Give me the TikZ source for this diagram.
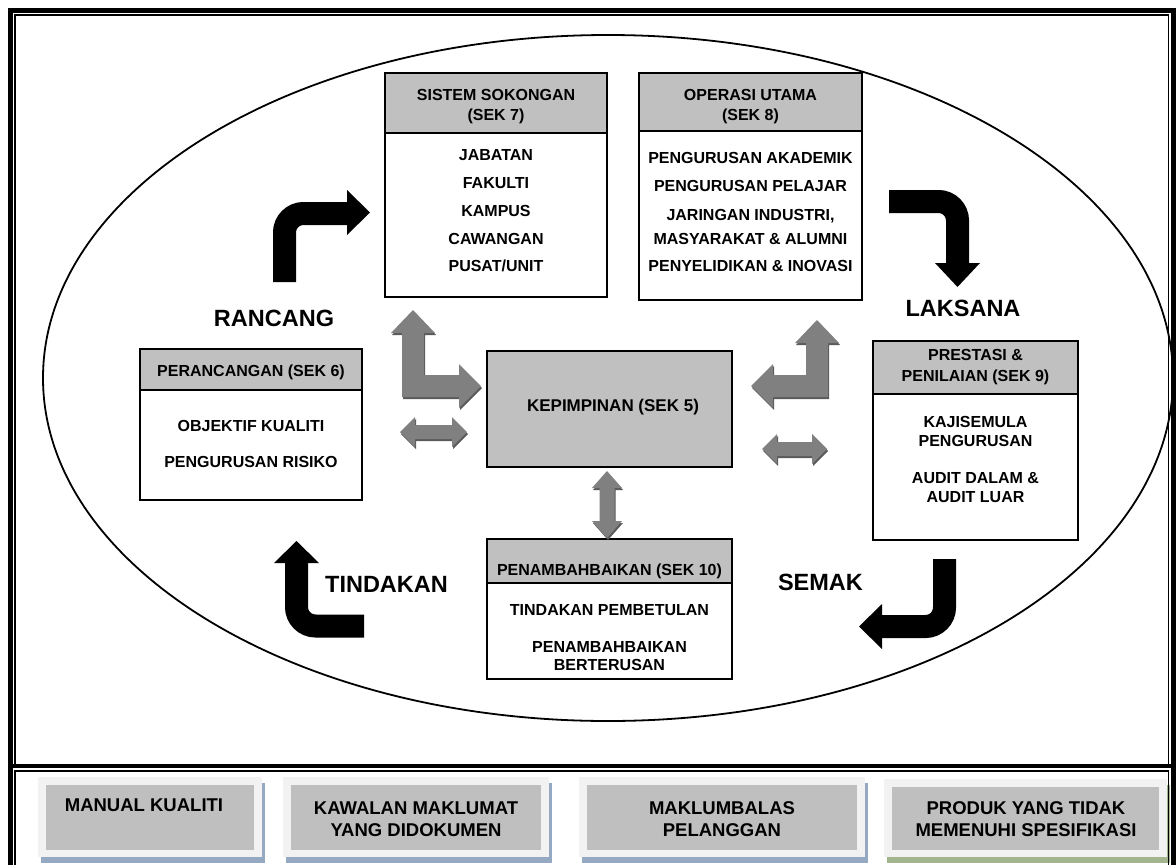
\documentclass[tikz,border=0pt]{standalone}
\usepackage{fontspec}
\setmainfont{Liberation Sans}
\definecolor{hdrgray}{HTML}{C0C0C0}
\definecolor{arrowgray}{HTML}{808080}
\definecolor{arrowshade}{HTML}{5A5A5A}
\definecolor{panelgray}{HTML}{BFBFBF}
\definecolor{panelrim}{HTML}{F2F2F2}
\definecolor{shadeblue}{HTML}{95A9C3}
\definecolor{shadegreen}{HTML}{A2B58E}

% section box: name, x1, y1, x2, y2, y of header bottom
\newcommand\secbox[6]{%
  \fill[hdrgray] (#2,#3) rectangle (#4,#6);
  \draw[line width=2pt] (#2,#6) -- (#4,#6);
  \node[boxframe,minimum width=#4pt-#2pt,minimum height=#5pt-#3pt] (#1) at ({(#2+#4)/2},{(#3+#5)/2}) {};
}
% document panel: name, x1, y1, x2, y2, shadow colour
\newcommand\docpanel[6]{%
  \fill[#6] (#2+3,#3+6) rectangle (#4+3,#5+6);
  \fill[panelrim] (#2,#3) rectangle (#4,#5);
  \node[fill=panelgray,inner sep=0pt,minimum width=#4pt-#2pt-16pt,minimum height=#5pt-#3pt-15pt] (#1) at ({(#2+#4)/2},{(#3+#5)/2}) {};
}
% shaded block arrow: path given as argument
\newcommand\shadedarrow[1]{%
  \fill[arrowshade,shift={(1,2)}] #1;
  \fill[arrowgray] #1;
}
% horizontal double arrow: x left tip, x right tip, y centre
\newcommand\harrow[3]{%
  \shadedarrow{(#1,#3) -- (#1+15,#3-15) -- (#1+15,#3-7) -- (#2-15,#3-7) -- (#2-15,#3-15) -- (#2,#3)
    -- (#2-15,#3+15) -- (#2-15,#3+7) -- (#1+15,#3+7) -- (#1+15,#3+15) -- cycle}}
% vertical double arrow: x centre, y top tip, y bottom tip
\newcommand\varrow[3]{%
  \shadedarrow{(#1,#2) -- (#1+15,#2+17) -- (#1+7.5,#2+17) -- (#1+7.5,#3-17) -- (#1+15,#3-17) -- (#1,#3)
    -- (#1-15,#3-17) -- (#1-7.5,#3-17) -- (#1-7.5,#2+17) -- (#1-15,#2+17) -- cycle}}

\begin{document}
\begin{tikzpicture}[x=1pt,y=-1pt,
  boxframe/.style={draw=black,line width=2pt,inner sep=0pt,outer sep=0pt},
  lbl/.style={font=\bfseries\fontsize{16}{18}\selectfont,anchor=base,inner sep=0pt},
  keylbl/.style={font=\bfseries\fontsize{17}{20}\selectfont,anchor=base,inner sep=0pt},
  biglbl/.style={font=\bfseries\fontsize{23.5}{26}\selectfont,anchor=base,inner sep=0pt},
  doclbl/.style={font=\bfseries\fontsize{18.5}{21}\selectfont,anchor=base,inner sep=0pt},
  cyclearrow/.style={draw=black,line width=23pt,rounded corners=19pt},
  cyclehead/.style={fill=black},
]
\useasboundingbox (0,0) rectangle (1176,865);
\fill[white] (0,0) rectangle (1176,865);

% the process cycle
\draw[line width=1.8pt] (608,378) ellipse [x radius=565, y radius=343];

% section boxes
\secbox{sis}{385}{73}{607}{297}{133}
\secbox{ops}{639}{73}{862}{300}{131}
\secbox{per}{140}{349}{362}{500}{390}
\secbox{pre}{873}{341}{1078}{540}{394}
\secbox{pen}{487}{539}{732}{679}{583}
\node[boxframe,fill=hdrgray,minimum width=245pt,minimum height=116pt] (kep) at (609.5,409) {};

% box texts
\node[lbl] (sisA) at (496,100.7) {SISTEM SOKONGAN};
\node[lbl] (sisB) at (496,120.5) {(SEK 7)};
\node[lbl] (sis1) at (496,160.7) {JABATAN};
\node[lbl] (sis2) at (496,188.3) {FAKULTI};
\node[lbl] (sis3) at (496,216.5) {KAMPUS};
\node[lbl] (sis4) at (496,244) {CAWANGAN};
\node[lbl] (sis5) at (496,271) {PUSAT/UNIT};

\node[lbl] (opsA) at (750.5,100.7) {OPERASI UTAMA};
\node[lbl] (opsB) at (750.5,120.5) {(SEK 8)};
\node[lbl] (ops1) at (750.5,163) {PENGURUSAN AKADEMIK};
\node[lbl] (ops2) at (750.5,191.5) {PENGURUSAN PELAJAR};
\node[lbl] (ops3) at (750.5,220) {JARINGAN INDUSTRI,};
\node[lbl] (ops4) at (750.5,244) {MASYARAKAT \& ALUMNI};
\node[lbl] (ops5) at (750.5,271) {PENYELIDIKAN \& INOVASI};

\node[lbl] (perA) at (251,376.7) {PERANCANGAN (SEK 6)};
\node[lbl] (per1) at (251,431.7) {OBJEKTIF KUALITI};
\node[lbl] (per2) at (251,467.7) {PENGURUSAN RISIKO};

\node[keylbl] (kepA) at (613,411) {KEPIMPINAN (SEK 5)};

\node[lbl] (preA) at (975.5,360) {PRESTASI \&};
\node[lbl] (preB) at (975.5,381) {PENILAIAN (SEK 9)};
\node[lbl] (pre1) at (975.5,427) {KAJISEMULA};
\node[lbl] (pre2) at (975.5,446) {PENGURUSAN};
\node[lbl] (pre3) at (975.5,483) {AUDIT DALAM \&};
\node[lbl] (pre4) at (975.5,502) {AUDIT LUAR};

\node[lbl] (penA) at (609.5,575) {PENAMBAHBAIKAN (SEK 10)};
\node[lbl] (pen1) at (609.5,615) {TINDAKAN PEMBETULAN};
\node[lbl] (pen2) at (609.5,652.7) {PENAMBAHBAIKAN};
\node[lbl] (pen3) at (609.5,670.5) {BERTERUSAN};

% links between leadership and the other sections
\shadedarrow{(413,310) -- (435,333) -- (424,333) -- (424,375) -- (459,375) -- (459,364) -- (481,386)
  -- (459,408) -- (459,397) -- (402,397) -- (402,333) -- (391,333) -- cycle}
\shadedarrow{(817,320) -- (839,343) -- (828,343) -- (828,397) -- (773,397) -- (773,408) -- (751,386)
  -- (773,364) -- (773,375) -- (806,375) -- (806,343) -- (795,343) -- cycle}
\harrow{400}{467}{432}
\harrow{762}{827}{449}
\varrow{607}{471}{538}

% PDCA cycle arrows
\draw[cyclearrow] (284.5,282) |- (348,213.5);
\fill[cyclehead] (347,190) -- (370,212.5) -- (347,235) -- cycle;
\draw[cyclearrow] (889,201.5) -| (957.5,264);
\fill[cyclehead] (935,263) -- (980,263) -- (957.5,287) -- cycle;
\draw[cyclearrow] (944.5,559) |- (881,626.5);
\fill[cyclehead] (882,604) -- (882,649) -- (859,626.5) -- cycle;
\draw[cyclearrow] (364,626) -| (296.5,562);
\fill[cyclehead] (274,563) -- (319,563) -- (296.5,541) -- cycle;

\node[biglbl] (plan) at (274,326.7) {RANCANG};
\node[biglbl] (do) at (963,316) {LAKSANA};
\node[biglbl] (check) at (820.5,590) {SEMAK};
\node[biglbl] (act) at (386.5,592.7) {TINDAKAN};

% supporting documents
\docpanel{doc1}{38}{777}{262}{857}{shadeblue}
\docpanel{doc2}{283}{777}{549}{857}{shadeblue}
\docpanel{doc3}{579}{777}{865}{857}{shadeblue}
\docpanel{doc4}{884}{779}{1167}{857}{shadegreen}
\node[doclbl] (doc1a) at (144,811.7) {MANUAL KUALITI};
\node[doclbl] (doc2a) at (416,814.3) {KAWALAN MAKLUMAT};
\node[doclbl] (doc2b) at (416,836) {YANG DIDOKUMEN};
\node[doclbl] (doc3a) at (722,814.3) {MAKLUMBALAS};
\node[doclbl] (doc3b) at (722,836) {PELANGGAN};
\node[doclbl] (doc4a) at (1026,814.3) {PRODUK YANG TIDAK};
\node[doclbl] (doc4b) at (1026,836) {MEMENUHI SPESIFIKASI};

% page frame: thick outer rule, thin inner rule
\draw[line width=4.7pt] (10.3,870) -- (10.3,10.3) -- (1173.5,10.3) -- (1173.5,870);
\draw[line width=4.5pt] (8,766) -- (1176,766);
\draw[line width=1.7pt] (14.8,763.5) -- (14.8,14.8) -- (1168.5,14.8) -- (1168.5,763.5);
\draw[line width=1.7pt] (14.8,870) -- (14.8,770.8) -- (1168.5,770.8) -- (1168.5,870);
\end{tikzpicture}
\end{document}
